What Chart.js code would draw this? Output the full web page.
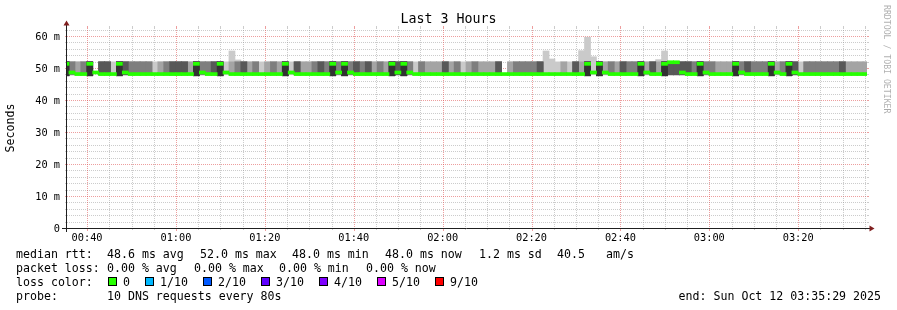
<!DOCTYPE html>
<html>
<head>
<meta charset="utf-8">
<script src="https://cdn.jsdelivr.net/npm/chart.js@4.4.1/dist/chart.umd.min.js"></script>
<style>
  html, body { margin: 0; padding: 0; background: #ffffff; }
  canvas { display: block; }
</style>
</head>
<body>
<canvas id="c" width="897" height="310"></canvas>
<script>
// ---------- data (time in seconds after midnight) ----------
const X_MIN = 2129;              // 00:35:29
const X_MAX = 12929;             // 03:35:29
const STEP = 80;                 // probe step, seconds
const FIRST_SAMPLE_CENTER = 2116;

// median rtt per 80 s sample (ms)
const medianRtt = [
  51.3, 48.6, 48.1, 48.1, 51.3, 48.6, 48.1, 48.1, 48.1, 51.3,
  48.6, 48.1, 48.1, 48.1, 48.1, 48.1, 48.1, 48.1, 48.1, 48.1,
  48.1, 48.1, 51.3, 48.6, 48.1, 48.1, 51.3, 48.6, 48.1, 48.1,
  48.1, 48.1, 48.1, 48.1, 48.1, 48.1, 48.1, 51.3, 48.6, 48.1,
  48.1, 48.1, 48.1, 48.1, 48.1, 51.3, 48.6, 51.3, 48.6, 48.1,
  48.1, 48.1, 48.1, 48.1, 48.1, 51.3, 48.6, 51.3, 48.6, 48.1,
  48.1, 48.1, 48.1, 48.1, 48.1, 48.1, 48.1, 48.1, 48.1, 48.1,
  48.1, 48.1, 48.1, 48.1, 48.1, 48.1, 48.1, 48.1, 48.1, 48.1,
  48.1, 48.1, 48.1, 48.1, 48.1, 48.1, 48.1, 48.1, 51.3, 48.6,
  51.3, 48.6, 48.1, 48.1, 48.1, 48.1, 48.1, 51.3, 48.6, 48.1,
  48.1, 51.3, 51.8, 51.8, 48.6, 48.1, 48.1, 51.3, 48.6, 48.1,
  48.1, 48.1, 48.1, 51.3, 48.6, 48.1, 48.1, 48.1, 48.1, 51.3,
  48.6, 48.1, 51.3, 48.6, 48.1, 48.1, 48.1, 48.1, 48.1, 48.1,
  48.1, 48.1, 48.1, 48.1, 48.1, 48.1
];

// smoke shade level per sample (innermost ping pair spanning the band, 0 = no spread)
const smokeShade = [
  5,3,2,3,5,0,4,4,1,5,
  4,3,3,3,3,1,2,3,4,4,
  4,2,5,3,3,4,5,1,2,3,
  4,2,3,1,2,3,2,5,1,4,
  2,2,3,4,3,5,3,5,3,4,
  3,4,2,3,2,5,4,5,3,1,
  3,2,2,2,4,2,3,1,2,3,
  2,2,2,4,0,2,3,3,3,3,
  4,1,1,1,2,1,4,2,5,1,
  5,2,3,2,4,3,3,5,2,4,
  2,5,4,4,4,4,3,5,3,3,
  2,2,2,5,3,4,3,3,3,5,
  2,3,5,4,1,3,3,3,3,3,
  3,4,2,2,2,2
];

// smoke band lower / upper edge (ms)
const smokeLow = [
  47.6,47.9,47.9,47.9,47.6,null,47.9,47.9,47.9,47.6,
  47.9,47.9,47.9,47.9,47.9,47.9,47.9,47.9,47.9,47.9,
  47.9,47.9,47.6,47.9,47.9,47.9,47.6,47.9,47.9,47.9,
  47.9,47.9,47.9,47.9,47.9,47.9,47.9,47.6,47.9,47.9,
  47.9,47.9,47.9,47.9,47.9,47.6,47.9,47.6,47.9,47.9,
  47.9,47.9,47.9,47.9,47.9,47.6,47.9,47.6,47.9,47.9,
  47.9,47.9,47.9,47.9,47.9,47.9,47.9,47.9,47.9,47.9,
  47.9,47.9,47.9,47.9,null,47.9,47.9,47.9,47.9,47.9,
  47.9,47.9,47.9,47.9,47.9,47.9,47.9,47.9,47.6,47.9,
  47.6,47.9,47.9,47.9,47.9,47.9,47.9,47.6,47.9,47.9,
  47.9,47.6,47.9,47.9,47.9,47.9,47.9,47.6,47.9,47.9,
  47.9,47.9,47.9,47.6,47.9,47.9,47.9,47.9,47.9,47.6,
  47.9,47.9,47.6,47.9,47.9,47.9,47.9,47.9,47.9,47.9,
  47.9,47.9,47.9,47.9,47.9,47.9
];
const smokeHigh = [
  51.9,51.9,51.9,51.9,51.9,null,51.9,51.9,51.9,51.9,
  51.9,51.9,51.9,51.9,51.9,51.9,51.9,51.9,51.9,51.9,
  51.9,51.9,51.9,51.9,51.9,51.9,51.9,51.9,51.9,51.9,
  51.9,51.9,51.9,51.9,51.9,51.9,51.9,51.9,51.9,51.9,
  51.9,51.9,51.9,51.9,51.9,51.9,51.9,51.9,51.9,51.9,
  51.9,51.9,51.9,51.9,51.9,51.9,51.9,51.9,51.9,51.9,
  51.9,51.9,51.9,51.9,51.9,51.9,51.9,51.9,51.9,51.9,
  51.9,51.9,51.9,51.9,null,51.9,51.9,51.9,51.9,51.9,
  51.9,51.9,51.9,51.9,51.9,51.9,51.9,51.9,51.9,51.9,
  51.9,51.9,51.9,51.9,51.9,51.9,51.9,51.9,51.9,51.9,
  51.9,51.9,51.9,51.9,51.9,51.9,51.9,51.9,51.9,51.9,
  51.9,51.9,51.9,51.9,51.9,51.9,51.9,51.9,51.9,51.9,
  51.9,51.9,51.9,51.9,51.9,51.9,51.9,51.9,51.9,51.9,
  51.9,51.9,51.9,51.9,51.9,51.9
];

// slowest-ping outliers (sample index -> top of outer smoke, ms)
const spikeSample = [28, 29, 81, 82, 87, 88, 89, 100, 101];
const spikeValue  = [55.3, 52.5, 55.3, 52.8, 55.4, 59.6, 53.5, 52.6, 55.3];

// axis ticks
const yGridValues  = [0,2,4,6,8,10,12,14,16,18,20,22,24,26,28,30,32,34,36,38,40,42,44,46,48,50,52,54,56,58,60,62];
const yLabelValues = [0,10,20,30,40,50,60];
const xGridTimes   = [2400,2700,3000,3300,3600,3900,4200,4500,4800,5100,5400,5700,6000,6300,6600,6900,7200,7500,7800,8100,8400,8700,9000,9300,9600,9900,10200,10500,10800,11100,11400,11700,12000,12300,12600,12900];
const xLabelTimes  = [2400,3600,4800,6000,7200,8400,9600,10800,12000];

const lossLabels = ['0','1/10','2/10','3/10','4/10','5/10','9/10'];
const lossColors = ['#26ff00','#00b8ff','#0059ff','#5e00ff','#7e00ff','#dd00ff','#ff0000'];

// ---------- chart ----------
const MONO = '"DejaVu Sans Mono", monospace';
const SMOKE_GRAYS = ['#cacaca','#a4a4a4','#7e7e7e','#585858','#323232'];
const MINOR = 'rgba(143,143,143,0.45)';
const MAJOR = 'rgba(222,79,79,0.55)';

const hhmm = s => String(Math.floor(s / 3600)).padStart(2, '0') + ':' + String(Math.floor((s % 3600) / 60)).padStart(2, '0');
const sampleTimes = medianRtt.map((_, i) => FIRST_SAMPLE_CENTER + i * STEP);

const barCommon = { grouped: false, barPercentage: 1, categoryPercentage: 1, borderWidth: 0, inflateAmount: 0.4 };
const datasets = [];
datasets.push(Object.assign({
  label: 'median rtt',
  data: sampleTimes.map((t, i) => ({ x: t, y: [medianRtt[i] - 0.45, medianRtt[i] + 0.45] })),
  backgroundColor: lossColors[0],
  order: 0
}, barCommon));
for (let L = 5; L >= 1; L--) {
  datasets.push(Object.assign({
    label: 'smoke ' + L,
    data: sampleTimes.map((t, i) => {
      if (smokeShade[i] < L || smokeLow[i] === null) return { x: t, y: null };
      let hi = smokeHigh[i];
      if (L === 1) {
        const j = spikeSample.indexOf(i);
        if (j >= 0) hi = Math.max(hi, spikeValue[j]);
      }
      return { x: t, y: [smokeLow[i], hi] };
    }),
    backgroundColor: SMOKE_GRAYS[L - 1],
    order: 6 - L
  }, barCommon));
}

function text(ctx, str, x, y, font, align, color) {
  ctx.font = font;
  ctx.textAlign = align || 'left';
  ctx.textBaseline = 'middle';
  ctx.fillStyle = color || '#000000';
  ctx.fillText(str, x, y);
}

const rrdPlugin = {
  id: 'rrd',
  beforeDatasetsDraw(chart) {
    const ctx = chart.ctx;
    const { left, right, top, bottom } = chart.chartArea;
    const xs = chart.scales.x, ys = chart.scales.y;
    ctx.save();
    ctx.lineWidth = 1;
    for (const v of yGridValues) {
      if (v === 0) continue;
      const py = Math.round(ys.getPixelForValue(v)) + 0.5;
      const major = v % 10 === 0;
      ctx.strokeStyle = major ? MAJOR : MINOR;
      ctx.setLineDash([]);
      ctx.beginPath();
      ctx.moveTo(left - 2, py); ctx.lineTo(left, py);
      ctx.moveTo(right, py); ctx.lineTo(right + 2, py);
      ctx.stroke();
      ctx.setLineDash([1, 1]);
      ctx.beginPath(); ctx.moveTo(left, py); ctx.lineTo(right, py); ctx.stroke();
    }
    for (const t of xGridTimes) {
      const px = Math.round(xs.getPixelForValue(t)) + 0.5;
      const major = t % 1200 === 0;
      ctx.strokeStyle = major ? MAJOR : MINOR;
      ctx.setLineDash([]);
      ctx.beginPath();
      ctx.moveTo(px, top - 2); ctx.lineTo(px, top);
      ctx.moveTo(px, bottom); ctx.lineTo(px, bottom + (major ? 3 : 2));
      ctx.stroke();
      ctx.setLineDash([1, 1]);
      ctx.beginPath(); ctx.moveTo(px, top); ctx.lineTo(px, bottom); ctx.stroke();
    }
    ctx.restore();
  },
  afterDraw(chart) {
    const ctx = chart.ctx;
    const { left, right, top, bottom } = chart.chartArea;
    ctx.save();
    // axes
    ctx.strokeStyle = '#1f1f1f';
    ctx.lineWidth = 1;
    ctx.setLineDash([]);
    ctx.beginPath();
    ctx.moveTo(left - 5, bottom + 0.5); ctx.lineTo(right + 4, bottom + 0.5);
    ctx.moveTo(left - 0.5, bottom + 4); ctx.lineTo(left - 0.5, top - 4);
    ctx.stroke();
    ctx.fillStyle = '#801f1f';
    ctx.beginPath();
    ctx.moveTo(right + 2.5, bottom - 2.5); ctx.lineTo(right + 2.5, bottom + 3.5); ctx.lineTo(right + 7.5, bottom + 0.5);
    ctx.closePath(); ctx.fill();
    ctx.beginPath();
    ctx.moveTo(left - 3.5, top - 2.5); ctx.lineTo(left + 2.5, top - 2.5); ctx.lineTo(left - 0.5, top - 7.5);
    ctx.closePath(); ctx.fill();

    // title
    text(ctx, 'Last 3 Hours', 448.5, 20, '13.3px ' + MONO, 'center');
    // unit
    ctx.save();
    ctx.translate(11, 128);
    ctx.rotate(-Math.PI / 2);
    text(ctx, 'Seconds', 0, 0, '11.6px ' + MONO, 'center');
    ctx.restore();
    // watermark
    ctx.save();
    ctx.translate(886, 5);
    ctx.rotate(Math.PI / 2);
    text(ctx, 'RRDTOOL / TOBI OETIKER', 0, 0, '8.2px ' + MONO, 'left', 'rgba(0,0,0,0.33)');
    ctx.restore();

    // legend
    const LF = '11.6px ' + MONO;
    const rows = [
      [254, [[16, 'median rtt:'], [107, '48.6 ms avg'], [200, '52.0 ms max'], [292, '48.0 ms min'], [385, '48.0 ms now'], [479, '1.2 ms sd'], [557, '40.5'], [606, 'am/s']]],
      [268, [[16, 'packet loss:'], [107, '0.00 % avg'], [194, '0.00 % max'], [279, '0.00 % min'], [366, '0.00 % now']]],
      [282, [[16, 'loss color:']]],
      [296, [[16, 'probe:'], [107, '10 DNS requests every 80s']]]
    ];
    for (const [y, items] of rows) for (const [x, s] of items) text(ctx, s, x, y + 0.5, LF, 'left');
    const boxX = [108, 145, 203, 261, 319, 377, 435];
    for (let i = 0; i < lossLabels.length; i++) {
      ctx.fillStyle = lossColors[i];
      ctx.fillRect(boxX[i], 277, 9, 9);
      ctx.strokeStyle = '#000000';
      ctx.strokeRect(boxX[i] + 0.5, 277.5, 8, 8);
      text(ctx, lossLabels[i], boxX[i] + 15, 282.5, LF, 'left');
    }
    text(ctx, 'end: Sun Oct 12 03:35:29 2025', 881, 296.5, LF, 'right');
    ctx.restore();
  }
};

new Chart(document.getElementById('c').getContext('2d'), {
  type: 'bar',
  data: { datasets },
  options: {
    responsive: false,
    animation: false,
    devicePixelRatio: 1,
    layout: { padding: { left: 0, right: 30, top: 28, bottom: 0 } },
    plugins: { legend: { display: false }, tooltip: { enabled: false }, title: { display: false } },
    scales: {
      x: {
        type: 'linear', min: X_MIN, max: X_MAX, bounds: 'data', offset: false,
        afterFit(s) { s.height = 82; },
        afterBuildTicks(s) { s.ticks = xLabelTimes.map(v => ({ value: v })); },
        ticks: { autoSkip: false, maxRotation: 0, minRotation: 0, padding: 4, color: '#000000',
                 font: { family: MONO, size: 10.3 }, callback: v => hhmm(v) },
        grid: { display: false, drawTicks: false, offset: false },
        border: { display: false }
      },
      y: {
        min: 0, max: 62.5, bounds: 'data',
        afterFit(s) { s.width = 67; },
        afterBuildTicks(s) { s.ticks = yLabelValues.map(v => ({ value: v })); },
        ticks: { padding: 7, labelOffset: 1, color: '#000000', font: { family: MONO, size: 10.3 },
                 callback: v => (v === 0 ? '0' : v + ' m') },
        grid: { display: false, drawTicks: false },
        border: { display: false }
      }
    }
  },
  plugins: [rrdPlugin]
});
</script>
</body>
</html>
